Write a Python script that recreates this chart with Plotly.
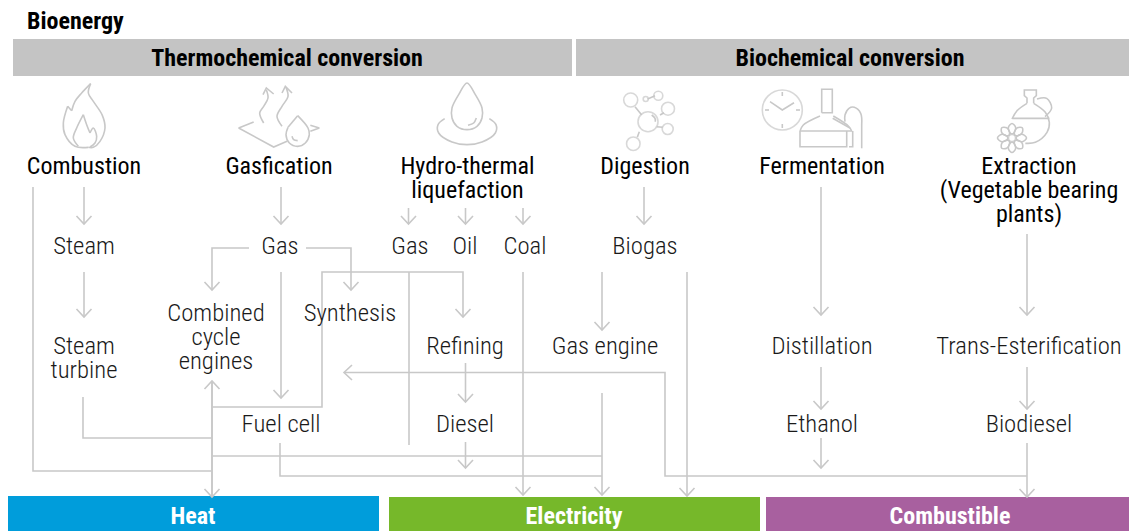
import plotly.graph_objects as go

LINE = "#c8c8c8"
TEXT = "#1a1a1a"
FONT = "Roboto Condensed, Liberation Sans Narrow, Roboto, sans-serif"

TITLE = ("Bioenergy", 27, 23)
SECTIONS = [("Thermochemical conversion", 13, 572, 39, 76, "#c4c4c4"),
            ("Biochemical conversion", 576, 1129, 39, 76, "#c4c4c4")]
SECTION_LABEL_X = [287, 850]
OUTPUTS = [("Heat", 8, 379, 496, 531, "#009ddb"),
           ("Electricity", 389, 760, 497, 531, "#76b82a"),
           ("Combustible", 766, 1129, 497, 531, "#a8609f")]
OUTPUT_LABEL_X = [193, 574, 950]

MAIN_LABELS = [("Combustion", 84, 168), ("Gasfication", 279, 168), ("Hydro-thermal", 467.5, 168),
               ("liquefaction", 467.5, 192), ("Digestion", 645, 168), ("Fermentation", 822, 168),
               ("Extraction", 1029, 168), ("(Vegetable bearing", 1029, 192), ("plants)", 1029, 216)]
NODE_LABELS = [("Steam", 84, 248), ("Gas", 280, 248), ("Gas", 410, 248), ("Oil", 465, 248), ("Coal", 525, 248),
               ("Biogas", 645, 248), ("Combined", 216, 315), ("cycle", 216, 339), ("engines", 216, 363),
               ("Synthesis", 350, 315), ("Steam", 84, 348), ("turbine", 84, 372), ("Refining", 465, 348),
               ("Gas engine", 605, 348), ("Distillation", 822, 348), ("Trans-Esterification", 1029, 348),
               ("Fuel cell", 281, 426), ("Diesel", 465, 426), ("Ethanol", 822, 426), ("Biodiesel", 1029, 426)]

# connectors: polylines, True = arrowhead on the end
CONNECTORS = [
    ([(33, 187), (33, 471), (212, 471)], False),
    ([(84, 187), (84, 224)], True),
    ([(84, 272), (84, 317)], True),
    ([(83, 397), (83, 438), (212, 438)], False),
    ([(281, 187), (281, 224)], True),
    ([(249, 248), (212, 248), (212, 290)], True),
    ([(306, 248), (351, 248), (351, 290)], True),
    ([(281, 272), (281, 398)], True),
    ([(212, 407), (322, 407), (322, 272), (463, 272), (463, 317)], True),
    ([(212, 497), (212, 381)], True),
    ([(212, 381), (212, 497)], True),
    ([(280, 443), (280, 476), (602, 476)], False),
    ([(212, 456), (602, 456)], False),
    ([(602, 393), (602, 495)], True),
    ([(409, 272), (409, 445)], False),
    ([(408.5, 208), (408.5, 224)], True),
    ([(465.5, 208), (465.5, 224)], True),
    ([(523, 208), (523, 224)], True),
    ([(523, 272), (523, 495)], True),
    ([(465.5, 363), (465.5, 402)], True),
    ([(465.5, 442), (465.5, 468)], True),
    ([(1027, 476), (665, 476), (665, 372.5), (344, 372.5)], True),
    ([(602, 272), (602, 330)], True),
    ([(687, 272), (687, 496)], True),
    ([(644, 187), (644, 224)], True),
    ([(821, 187), (821, 315)], True),
    ([(821, 367), (821, 409)], True),
    ([(821, 438), (821, 468)], True),
    ([(1027, 234), (1027, 315)], True),
    ([(1027, 367), (1027, 409)], True),
    ([(1027, 443), (1027, 497)], True),
]

# icons: (origin x, origin y, scale, smooth strokes, straight strokes)
FLAME = (55, 78, 1 / 3, [
    [(100, 208), (60, 205), (30, 170), (25, 135), (38, 85)],
    [(50, 98), (60, 70), (80, 45), (107, 17)],
    [(107, 17), (100, 45), (115, 70), (142, 112), (150, 150), (135, 190), (115, 208), (100, 208)],
    [(70, 205), (55, 180), (65, 150), (85, 110)],
    [(85, 110), (95, 140), (105, 165)],
    [(105, 165), (115, 150), (125, 175), (120, 195), (105, 207)],
], [[(38, 85), (50, 98)]])
GAS = (232, 78, 1 / 3, [
    [(103, 35), (108, 60), (95, 85), (83, 105), (95, 135)],
    [(162, 28), (168, 55), (150, 85), (135, 115), (150, 145)],
    [(168, 148), (162, 170), (172, 195), (197, 205), (220, 195), (232, 170), (228, 150), (197, 113)],
    [(180, 175), (185, 185), (197, 188)],
], [
    [(65, 132), (20, 150), (125, 207), (165, 190)],
    [(235, 142), (262, 150), (235, 160)],
    [(93, 50), (103, 30), (125, 48)],
    [(150, 45), (160, 25), (180, 45)],
    [(197, 113), (168, 148)],
])
DROP = (432, 78, 1 / 3, [
    [(105, 15), (80, 50), (60, 90), (60, 120), (75, 145), (105, 155), (135, 145), (150, 120), (150, 90), (130, 50), (105, 15)],
    [(133, 120), (125, 135), (108, 142)],
    [(38, 122), (18, 140), (20, 165), (60, 192), (105, 200), (150, 192), (190, 165), (192, 140), (172, 122)],
], [])
MOLECULE = (0, 0, 1, [
    [(651.7, 115), (655, 118.3), (655.3, 121.7)],
], [
    [(635, 106.7), (641.7, 115)], [(647.7, 99), (655, 95.7)], [(660, 115), (664, 112.7)],
    [(656.7, 126.7), (662.7, 127.3)], [(639.3, 131.7), (637.3, 137.3)],
])
BREW = (0, 0, 1, [
    [(845, 121.7), (845, 115), (849, 108.3), (854.3, 107.3), (860.7, 113.3), (861.7, 125)],
    [(800, 131), (803.3, 125), (820, 116)],
    [(833.3, 116), (848.3, 126), (851.7, 131)],
], [
    [(821.7, 112.7), (821.7, 89.3), (832.3, 89.3), (832.3, 112.7), (821.7, 112.7)],
    [(782.3, 92), (782.3, 96)], [(782.3, 124), (782.3, 128)], [(765, 110), (769, 110)], [(796, 110), (800, 110)],
    [(770, 101.7), (782.3, 110), (794, 102.7)],
    [(800, 131), (852, 131)],
    [(800, 131), (800, 146.7), (846.7, 146.7), (846.7, 131)],
    [(852.7, 131), (852.7, 146.7), (849, 146.7)],
    [(861.7, 125), (861.7, 148.3)],
    [(832.7, 118.3), (850, 128)],
])
FLASK = (992, 84, 1 / 3, [
    [(105, 58), (75, 80), (60, 105)],
    [(125, 58), (160, 85), (172, 115), (165, 145), (130, 175), (100, 178)],
    [(135, 45), (164, 43), (179, 72), (159, 98)],
], [
    [(105, 58), (105, 42), (97, 35), (97, 18), (133, 18), (133, 35), (125, 42), (125, 58)],
    [(62, 103), (172, 103)],
])
ICONS = [FLAME, GAS, DROP, MOLECULE, BREW, FLASK]
# flower: a petal outline in a local frame (along, across), and its eight rotations
PETAL = [(4, 0), (7, 3), (11, 3.5), (14.5, 0), (11, -3.5), (7, -3), (4, 0)]
PETAL_ROTATIONS = [(1, 0), (.707, .707), (0, 1), (-.707, .707), (-1, 0), (-.707, -.707), (0, -1), (.707, -.707)]
FLOWER_CENTRE = (1012, 138)
# open rings: x, y, diameter
RINGS = [(648, 121.7, 20), (630.7, 100, 14), (658.3, 95.7, 9), (645.7, 99, 5), (668, 108.7, 13),
         (667.7, 129, 11), (633.3, 143.7, 13.5), (782.3, 110, 40), (1012, 138, 7)]

fig = go.Figure()


def stroke(pts, smooth=False):
    fig.add_trace(go.Scatter(
        x=[p[0] for p in pts], y=[p[1] for p in pts], mode="lines", hoverinfo="skip",
        line=dict(color=LINE, width=1.6, shape="spline" if smooth else "linear", smoothing=1.0)))


for pts, head in CONNECTORS:
    stroke(pts)
    if head:
        (x0, y0), (x1, y1) = pts[-2], pts[-1]
        dx = (x1 > x0) - (x1 < x0)
        dy = (y1 > y0) - (y1 < y0)
        stroke([(x1 - dx * 8 - dy * 7.5, y1 - dy * 8 - dx * 7.5), (x1, y1),
                (x1 - dx * 8 + dy * 7.5, y1 - dy * 8 + dx * 7.5)])

for ox, oy, k, smooth, straight in ICONS:
    for s in smooth:
        stroke([(ox + k * a, oy + k * b) for a, b in s], True)
    for s in straight:
        stroke([(ox + k * a, oy + k * b) for a, b in s])

for c, s in PETAL_ROTATIONS:
    stroke([(FLOWER_CENTRE[0] + a * c - b * s, FLOWER_CENTRE[1] + a * s + b * c) for a, b in PETAL], True)

fig.add_trace(go.Scatter(
    x=[r[0] for r in RINGS], y=[r[1] for r in RINGS], mode="markers", hoverinfo="skip",
    marker=dict(symbol="circle-open", size=[r[2] for r in RINGS], color=LINE, line=dict(width=1.6, color=LINE))))

shapes = []
for label, x0, x1, y0, y1, color in SECTIONS + OUTPUTS:
    shapes.append(dict(type="rect", xref="x", yref="y", x0=x0, x1=x1, y0=y0, y1=y1,
                       fillcolor=color, line_width=0, layer="below"))


def labels(items, size, color, weight, position="middle center"):
    fig.add_trace(go.Scatter(
        x=[i[1] for i in items], y=[i[2] for i in items], text=[i[0] for i in items],
        mode="text", textposition=position, hoverinfo="skip",
        textfont=dict(family=FONT, size=size, color=color, weight=weight)))


labels(MAIN_LABELS, 24, "#000000", 400)
labels(NODE_LABELS, 24.7, TEXT, 300)
labels([TITLE], 24, "#000000", 700, "middle right")
labels([(s[0], x, 60) for s, x in zip(SECTIONS, SECTION_LABEL_X)], 24, "#000000", 700)
labels([(s[0], x, 517.5) for s, x in zip(OUTPUTS, OUTPUT_LABEL_X)], 24, "#ffffff", 700)

fig.update_layout(
    width=1129, height=531, margin=dict(l=0, r=0, t=0, b=0), showlegend=False,
    paper_bgcolor="white", plot_bgcolor="white", shapes=shapes,
    xaxis=dict(range=[0, 1129], visible=False, fixedrange=True),
    yaxis=dict(range=[531, 0], visible=False, fixedrange=True),
)
fig.write_html("out.html", config=dict(displayModeBar=False),
               post_script="document.body.style.margin='0';document.body.style.overflow='hidden';")
